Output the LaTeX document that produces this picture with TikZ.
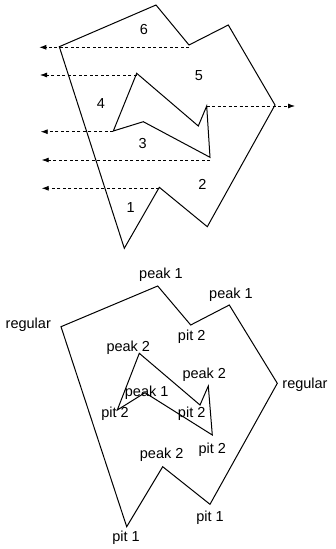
\documentclass[tikz,border=0pt]{standalone}
\usepackage{fontspec}
\setmainfont{Liberation Sans}
\usetikzlibrary{arrows.meta}
\begin{document}
\begin{tikzpicture}[x=1pt,y=-1pt,
  edge/.style={line width=1pt,line join=miter},
  ray/.style={line width=0.8pt,dash pattern=on 3pt off 2.5pt,-{Latex[length=7pt,width=5pt]}},
  lab/.style={inner sep=0pt,font=\fontsize{14.5}{16}\selectfont}]
\useasboundingbox (0,0) rectangle (336,549);

% ---------- upper figure: regions swept by horizontal rays ----------
\coordinate (a) at (59.3,46.7);
\coordinate (b) at (156,5);
\coordinate (c) at (189,45);
\coordinate (d) at (228.3,25);
\coordinate (e) at (275,105);
\coordinate (f) at (207.3,226.7);
\coordinate (g) at (159.3,187.3);
\coordinate (h) at (124.3,248.3);
\draw[edge] (a)--(b)--(c)--(d)--(e)--(f)--(g)--(h)--cycle;

\coordinate (i1) at (136.7,73.3);
\coordinate (i2) at (198.3,126);
\coordinate (i3) at (206.7,106);
\coordinate (i4) at (210,157.3);
\coordinate (i5) at (143.3,121.7);
\coordinate (i6) at (113.3,131);
\draw[edge] (i1)--(i2)--(i3)--(i4)--(i5)--(i6)--cycle;

% ray end points
\coordinate (l1) at (39.3,47.3);
\coordinate (l2) at (40,75);
\coordinate (l3) at (40.7,131.7);
\coordinate (l4) at (41.7,160);
\coordinate (l5) at (41.7,188.3);
\coordinate (r1) at (295,106);
\coordinate (c0) at (189,47.3);
\coordinate (i10) at (136.7,75);
\coordinate (i30) at (206.7,106);
\coordinate (i60) at (113.3,131.7);
\coordinate (i40) at (210,160);
\coordinate (g0) at (159.3,188.3);

\draw[ray] (c0) -- (l1);
\draw[ray] (i10) -- (l2);
\draw[ray] (i30) -- (r1);
\draw[ray] (i60) -- (l3);
\draw[ray] (i40) -- (l4);
\draw[ray] (g0) -- (l5);

\node[lab] (n6) at (144,29.3) {6};
\node[lab] (n5) at (199,76) {5};
\node[lab] (n4) at (101,103.3) {4};
\node[lab] (n3) at (142.7,144) {3};
\node[lab] (n2) at (202.3,184.3) {2};
\node[lab] (n1) at (130.7,207.3) {1};

% ---------- lower figure: vertex classification ----------
\coordinate (A) at (61,326.7);
\coordinate (B) at (157.7,286);
\coordinate (C) at (190.7,325);
\coordinate (D) at (229.3,305);
\coordinate (E) at (277.3,383.3);
\coordinate (F) at (210,504.3);
\coordinate (G) at (162.7,466.7);
\coordinate (H) at (126.7,526.7);
\draw[edge] (A)--(B)--(C)--(D)--(E)--(F)--(G)--(H)--cycle;

\coordinate (I1) at (139.3,353.3);
\coordinate (I2) at (200,405);
\coordinate (I3) at (208.3,386);
\coordinate (I4) at (212.3,435);
\coordinate (I5) at (145,392.7);
\coordinate (I6) at (117.3,410);
\draw[edge] (I1)--(I2)--(I3)--(I4)--(I5)--(I6)--cycle;

\node[lab] (tB) at (161,275) {peak 1};
\node[lab] (tD) at (231,295) {peak 1};
\node[lab] (tA) at (28.3,325) {regular};
\node[lab] (tC) at (191.7,336.7) {pit 2};
\node[lab] (tI1) at (128.3,347.7) {peak 2};
\node[lab] (tI3) at (204.3,375) {peak 2};
\node[lab] (tE) at (305,385) {regular};
\node[lab] (tI5) at (146.7,392.7) {peak 1};
\node[lab] (tI2) at (191.7,413.3) {pit 2};
\node[lab] (tI6) at (115,414) {pit 2};
\node[lab] (tI4) at (212.3,450) {pit 2};
\node[lab] (tG) at (161.7,454.3) {peak 2};
\node[lab] (tF) at (210,517.3) {pit 1};
\node[lab] (tH) at (126,537.7) {pit 1};
\end{tikzpicture}
\end{document}
